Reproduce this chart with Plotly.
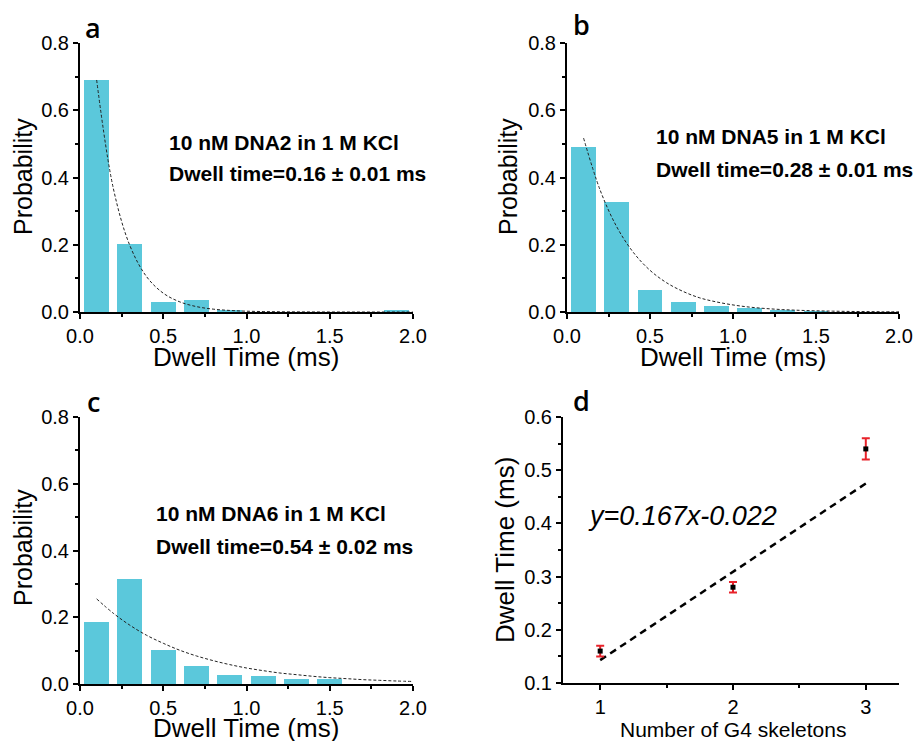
import plotly.graph_objects as go

# ---------------- data ----------------
bin_centers = [0.1, 0.3, 0.5, 0.7, 0.9, 1.1, 1.3, 1.5, 1.7, 1.9]
prob_a = [0.69, 0.202, 0.031, 0.036, 0.003, 0.0, 0.0, 0.0, 0.0, 0.005]
prob_b = [0.492, 0.327, 0.064, 0.030, 0.017, 0.013, 0.004, 0.002, 0.0, 0.0]
prob_c = [0.187, 0.314, 0.102, 0.054, 0.028, 0.025, 0.015, 0.016, 0.0, 0.0]

fit_x = [0.1, 0.2, 0.3, 0.4, 0.5, 0.6, 0.7, 0.8, 0.9, 1.0, 1.1, 1.2, 1.3, 1.4, 1.5, 1.6, 1.7, 1.8, 1.9, 2.0]
fit_a = [0.69, 0.368, 0.197, 0.105, 0.056, 0.030, 0.016, 0.0085, 0.0046, 0.0024, 0.0013, 0.0007, 0.0004, 0.0002, 0.0001, 0.0, 0.0, 0.0, 0.0, 0.0]
fit_b = [0.517, 0.362, 0.253, 0.177, 0.124, 0.087, 0.061, 0.042, 0.030, 0.021, 0.0145, 0.0102, 0.0071, 0.005, 0.0035, 0.0025, 0.0017, 0.0012, 0.0008, 0.0006]
fit_c = [0.255, 0.212, 0.176, 0.146, 0.122, 0.101, 0.084, 0.070, 0.058, 0.048, 0.040, 0.033, 0.028, 0.023, 0.019, 0.016, 0.013, 0.011, 0.009, 0.0076]

labels_line1 = ["10 nM DNA2 in 1 M KCl", "10 nM DNA5 in 1 M KCl", "10 nM DNA6 in 1 M KCl"]
labels_line2 = ["Dwell time=0.16 ± 0.01 ms", "Dwell time=0.28 ± 0.01 ms", "Dwell time=0.54 ± 0.02 ms"]

g4_number = [1, 2, 3]
dwell_time = [0.16, 0.28, 0.54]
dwell_err = [0.01, 0.01, 0.02]
fitline_x = [1, 3]
fitline_y = [0.143, 0.475]
equation = "y=0.167x-0.022"

hist_xtitle = "Dwell Time (ms)"
hist_ytitle = "Probability"
d_xtitle = "Number of G4 skeletons"
d_ytitle = "Dwell Time (ms)"

# ---------------- figure ----------------
BAR = "#5BC8DB"
FONT = "Arial"

fig = go.Figure()

panels = [
    ("x", "y", prob_a, fit_a),
    ("x2", "y2", prob_b, fit_b),
    ("x3", "y3", prob_c, fit_c),
]
for xa, ya, probs, fit in panels:
    fig.add_trace(go.Bar(x=bin_centers, y=probs, width=0.15, marker=dict(color=BAR, line=dict(width=0)),
                         xaxis=xa, yaxis=ya, showlegend=False))
    fig.add_trace(go.Scatter(x=fit_x, y=fit, mode="lines", line=dict(color="#222", width=1, dash="3px,2px", shape="spline"),
                             xaxis=xa, yaxis=ya, showlegend=False))

fig.add_trace(go.Scatter(x=fitline_x, y=fitline_y, mode="lines",
                         line=dict(color="black", width=2.5, dash="7px,5px"),
                         xaxis="x4", yaxis="y4", showlegend=False))
fig.add_trace(go.Scatter(x=g4_number, y=dwell_time, mode="markers",
                         marker=dict(symbol="square", size=5, color="black"),
                         error_y=dict(type="data", array=dwell_err, color="#E8222A", thickness=2, width=4),
                         xaxis="x4", yaxis="y4", showlegend=False))

W, H = 916, 741
def px(x0, x1):
    return [x0 / W, x1 / W]
def py(y_top, y_bot):
    return [1 - y_bot / H, 1 - y_top / H]

MINOR = dict(ticks="outside", ticklen=3, tickwidth=2, tickcolor="black")
axis_common = dict(showline=True, linecolor="black", linewidth=2, ticks="outside", ticklen=5, tickwidth=2,
                   tickcolor="black", showgrid=False, zeroline=False, mirror=False, automargin=False,
                   tickfont=dict(family=FONT, size=20, color="black"))

def hx(dom, anchor):
    return dict(axis_common, domain=dom, anchor=anchor, range=[0, 2.0], tickvals=[0, 0.5, 1.0, 1.5, 2.0],
                ticktext=["0.0", "0.5", "1.0", "1.5", "2.0"],
                minor=dict(MINOR, tickvals=[0.25, 0.75, 1.25, 1.75]))

def hy(dom, anchor):
    return dict(axis_common, domain=dom, anchor=anchor, range=[0, 0.8], tickvals=[0, 0.2, 0.4, 0.6, 0.8],
                ticktext=["0.0", "0.2", "0.4", "0.6", "0.8"],
                minor=dict(MINOR, tickvals=[0.1, 0.3, 0.5, 0.7]))

fig.update_layout(
    width=W, height=H, margin=dict(l=0, r=0, t=0, b=0, autoexpand=False),
    paper_bgcolor="white", plot_bgcolor="white", bargap=0,
    xaxis=hx(px(80, 413), "y"), yaxis=hy(py(43, 312), "x"),
    xaxis2=hx(px(567, 899), "y2"), yaxis2=hy(py(43, 312), "x2"),
    xaxis3=hx(px(80, 413), "y3"), yaxis3=hy(py(417, 684), "x3"),
    xaxis4=dict(axis_common, domain=px(563, 899), anchor="y4", range=[0.72, 3.25], tickvals=[1, 2, 3],
                minor=dict(MINOR, tickvals=[1.5, 2.5])),
    yaxis4=dict(axis_common, domain=py(417, 683), anchor="x4", range=[0.1, 0.6], tickvals=[0.1, 0.2, 0.3, 0.4, 0.5, 0.6],
                tickformat=".1f",
                minor=dict(MINOR, tickvals=[0.15, 0.25, 0.35, 0.45, 0.55])),
)

ann = []
def txt(text, x, y, size, anchor="center", angle=0, **fkw):
    ann.append(dict(text=text, x=x / W, y=1 - y / H, xref="paper", yref="paper", showarrow=False,
                    xanchor=anchor, yanchor="middle", textangle=angle,
                    font=dict(family=fkw.pop("family", FONT), size=size, color="black", **fkw)))

# panel letters
for letter, (x, y) in zip(["a", "b", "c", "d"], [(93, 27), (581, 25), (93, 401), (581, 400)]):
    txt(letter, x, y, 27, family="Open Sans", weight=600)
# axis titles
for (x, y) in [(246, 357), (733, 357), (246, 728)]:
    txt(hist_xtitle, x, y, 26)
for (x, y) in [(23, 177), (508, 176), (23, 548)]:
    txt(hist_ytitle, x, y, 25, angle=-90)
txt(d_xtitle, 733, 729, 21)
txt(d_ytitle, 505, 550, 26, angle=-90)
# histogram labels
for (x, y1, y2), t1, t2 in zip([(167, 142, 173), (654, 137, 170), (154, 513, 546)], labels_line1, labels_line2):
    txt(t1, x, y1, 21, anchor="left", weight="bold")
    txt(t2, x, y2, 21, anchor="left", weight="bold")
txt("<i>" + equation + "</i>", 586, 516, 27, anchor="left")
fig.update_layout(annotations=ann)

fig.write_html("out.html", config={"displayModeBar": False},
               post_script="document.body.style.margin='0px';document.body.style.overflow='hidden';")
